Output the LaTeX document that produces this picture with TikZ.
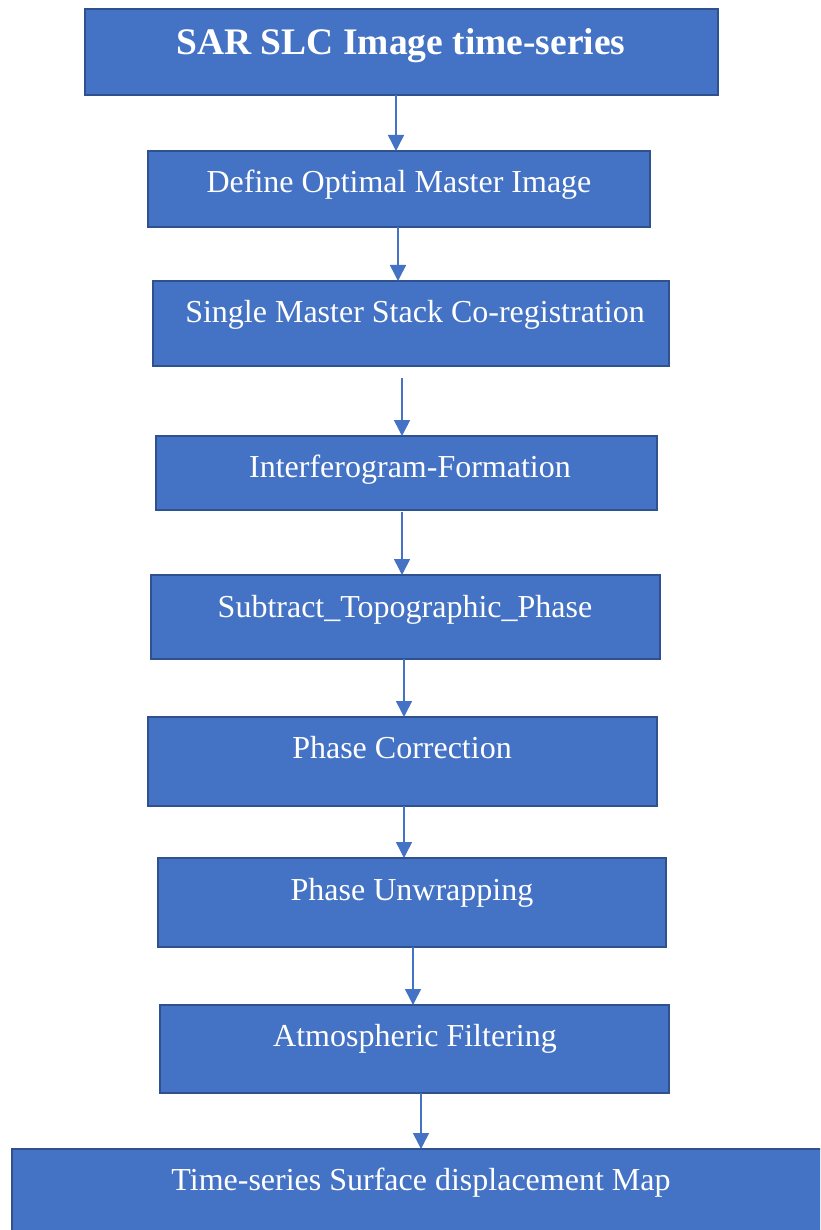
\documentclass[tikz,border=0pt]{standalone}
\usepackage{fontspec}
\setmainfont{Liberation Serif}
\usetikzlibrary{arrows.meta,calc}
\definecolor{boxfill}{HTML}{4472C4}
\definecolor{boxline}{HTML}{2F528F}
\tikzset{
  box/.style={draw=boxline, line width=2pt, fill=boxfill},
  lbl/.style={text=white, anchor=base, inner sep=0pt, font=\fontsize{32}{32}\selectfont},
  ttl/.style={text=white, anchor=base, inner sep=0pt, font=\fontsize{37.5}{37.5}\selectfont\bfseries},
  arr/.style={draw=boxfill, line width=1.5pt, -{Triangle[width=16pt,length=16pt]}}
}
\begin{document}
\begin{tikzpicture}[x=1pt,y=-1pt]
\useasboundingbox (0,0) rectangle (820,1230);
\clip (0,0) rectangle (820,1230);
\fill[white] (0,0) rectangle (820,1230);
% boxes
\draw[box] (85,9) rectangle (718,95);
\node[ttl] (t1) at (401,55) {SAR SLC Image time-series};
\draw[box] (148,151) rectangle (650,227);
\node[lbl] (t2) at (399,193) {Define Optimal Master Image};
\draw[box] (153,281) rectangle (669,366);
\node[lbl] (t3) at (415,323) {Single Master Stack Co-registration};
\draw[box] (156,436) rectangle (657,510);
\node[lbl] (t4) at (410,477) {Interferogram-Formation};
\draw[box] (151,575) rectangle (660,659);
\node[lbl] (t5) at (405,617) {Subtract\_Topographic\_Phase};
\draw[box] (148,717) rectangle (657,806);
\node[lbl] (t6) at (402,758) {Phase Correction};
\draw[box] (158,858) rectangle (666,947);
\node[lbl] (t7) at (412,900) {Phase Unwrapping};
\draw[box] (160,1005) rectangle (669,1093);
\node[lbl] (t8) at (415,1046) {Atmospheric Filtering};
\draw[box] (12,1149) rectangle (860,1260);
\node[lbl] (t9) at (421,1190) {Time-series Surface displacement Map};
% arrow end points
\coordinate (a1s) at (396,95);   \coordinate (a1e) at (396,151);
\coordinate (a2s) at (398,227);  \coordinate (a2e) at (398,281);
\coordinate (a3s) at (402,378);  \coordinate (a3e) at (402,436);
\coordinate (a4s) at (402,512);  \coordinate (a4e) at (402,575);
\coordinate (a5s) at (404,659);  \coordinate (a5e) at (404,717);
\coordinate (a6s) at (404,806);  \coordinate (a6e) at (404,858);
\coordinate (a7s) at (413,947);  \coordinate (a7e) at (413,1005);
\coordinate (a8s) at (421,1093); \coordinate (a8e) at (421,1149);
\draw[arr] (a1s) -- (a1e);
\draw[arr] (a2s) -- (a2e);
\draw[arr] (a3s) -- (a3e);
\draw[arr] (a4s) -- (a4e);
\draw[arr] (a5s) -- (a5e);
\draw[arr] (a6s) -- (a6e);
\draw[arr] (a7s) -- (a7e);
\draw[arr] (a8s) -- (a8e);
\end{tikzpicture}
\end{document}
